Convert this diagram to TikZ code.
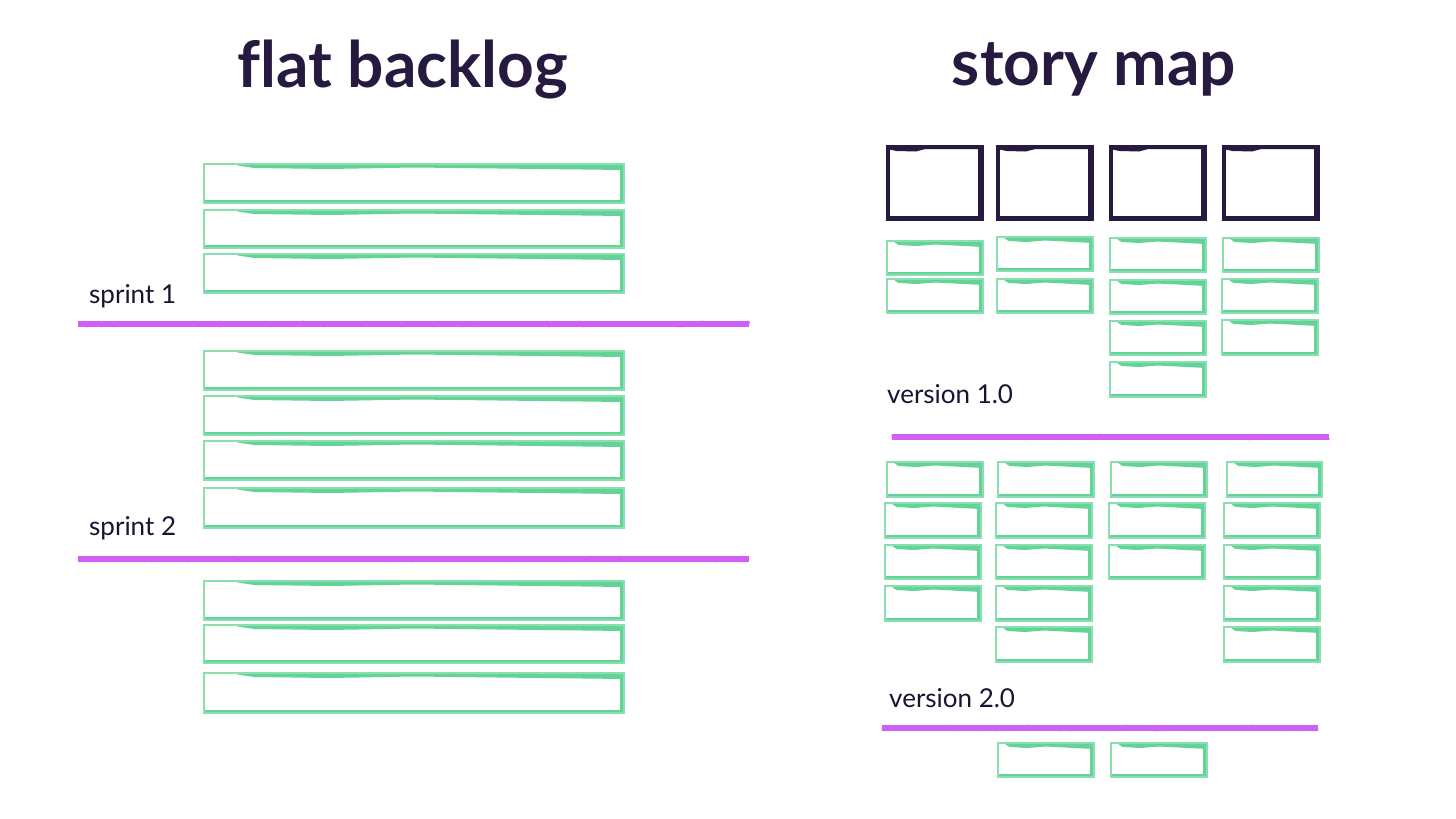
\documentclass[tikz,border=0pt]{standalone}
\usepackage{fontspec}
\setmainfont{Lato}[Ligatures=NoCommon]
\usetikzlibrary{calc,decorations.pathmorphing}
\definecolor{gcol}{HTML}{63D497}
\definecolor{navy}{HTML}{271A40}
\definecolor{pcol}{HTML}{D25FF3}
\definecolor{tcol}{HTML}{1B1332}
\tikzset{
  gbox/.style={draw=gcol!75, line width=1.3pt, inner sep=0pt, outer sep=0pt,
    path picture={
      \path (path picture bounding box.north west) coordinate (pa)
            (path picture bounding box.south east) coordinate (pb)
            (path picture bounding box.north east) coordinate (pc)
            (path picture bounding box.south west) coordinate (pd);
      \fill[gcol] ($(pa)!0.08!(pc)$) -- (pc) -- ([yshift=-6pt]pc)
        -- ($([yshift=-3.5pt]pa)!0.5!([yshift=-3.5pt]pc)$)
        -- ($([yshift=-5pt]pa)!0.3!([yshift=-5pt]pc)$)
        -- ($([yshift=-4pt]pa)!0.12!([yshift=-4pt]pc)$)
        -- ($([yshift=-1.5pt]pa)!0.08!([yshift=-1.5pt]pc)$) -- cycle;
      \fill[gcol] ([xshift=-4.5pt]pc) rectangle (pb);
      \fill[gcol] ([yshift=3.5pt]pd) rectangle ([xshift=-1pt]pb);
    }},
  dbox/.style={draw=navy, line width=2.2pt, inner sep=0pt, outer sep=0pt,
    path picture={
      \path (path picture bounding box.north west) coordinate (pa)
            (path picture bounding box.south east) coordinate (pb)
            (path picture bounding box.north east) coordinate (pc)
            (path picture bounding box.south west) coordinate (pd);
      \fill[navy] (pa) -- (pc) -- ([yshift=-3pt]pc)
        -- ($([yshift=-3pt]pa)!0.4!([yshift=-3pt]pc)$)
        -- ($([yshift=-5.5pt]pa)!0.3!([yshift=-5.5pt]pc)$)
        -- ($([yshift=-5pt]pa)!0.1!([yshift=-5pt]pc)$)
        -- ([yshift=-3pt]pa) -- cycle;
      \fill[navy] ([xshift=-5pt]pc) rectangle (pb);
      \fill[navy] ([yshift=4pt]pd) rectangle (pb);
      \fill[navy] (pa) rectangle ([xshift=2.5pt]pd);
    }},
  pline/.style={draw=pcol, line width=6pt},
  prough/.style={draw=pcol, line width=4.5pt,
    decorate, decoration={random steps, segment length=3pt, amplitude=0.9pt}},
  title/.style={text=navy, font=\fontsize{64}{64}\selectfont\bfseries, inner sep=0pt, anchor=base},
  lbl/.style={text=tcol, font=\fontsize{26}{26}\selectfont, inner sep=0pt, anchor=base west}
}
\newcommand\gbx[5]{\node[gbox, minimum width={#4-#2}, minimum height={#5-#3}] (#1) at ({(#2+#4)/2},{(#3+#5)/2}) {};}
\newcommand\dbx[5]{\node[dbox, minimum width={#4-#2}, minimum height={#5-#3}] (#1) at ({(#2+#4)/2},{(#3+#5)/2}) {};}
\newcommand\pln[3]{\draw[pline] (#1,#3) -- (#2,#3); \draw[prough] (#1,#3) -- (#2,#3);}
\begin{document}
\begin{tikzpicture}[x=1pt,y=-1pt]
\useasboundingbox[fill=white] (0,0) rectangle (1456,819);
% titles
\node[title] (t1) at (402.5,87) {flat backlog};
\node[title] (t2) at (1094,85) {story map};
% flat backlog
\gbx{a1}{204}{164}{624}{203}
\gbx{a2}{204}{210}{624}{248}
\gbx{a3}{204}{254}{624}{293}
\gbx{b1}{204}{351}{624}{390}
\gbx{b2}{204}{396}{624}{435}
\gbx{b3}{204}{441}{624}{480}
\gbx{b4}{204}{488}{624}{528}
\gbx{c1}{204}{581}{624}{620}
\gbx{c2}{204}{625}{624}{663}
\gbx{c3}{204}{673}{624}{713}
\node[lbl] (s1) at (89,303) {sprint 1};
\node[lbl] (s2) at (89,535) {sprint 2};
\pln{78}{749}{324}
\pln{78}{749}{559}
% story map: activities
\dbx{d1}{887}{146}{983}{220}
\dbx{d2}{997}{146}{1093}{220}
\dbx{d3}{1110}{146}{1206}{220}
\dbx{d4}{1223}{146}{1319}{220}
% version 1.0
\gbx{m11}{887}{241}{983}{275}
\gbx{m12}{887}{279}{983}{313}
\gbx{m21}{997}{237}{1093}{271}
\gbx{m22}{997}{279}{1093}{313}
\gbx{m31}{1110}{238}{1206}{272}
\gbx{m32}{1110}{280}{1206}{314}
\gbx{m33}{1110}{321}{1206}{355}
\gbx{m34}{1110}{362}{1206}{397}
\gbx{m41}{1223}{238}{1319}{272}
\gbx{m42}{1222}{279}{1318}{313}
\gbx{m43}{1222}{320}{1318}{355}
\node[lbl] (v1) at (887,403) {version 1.0};
\pln{892}{1329}{437}
% version 2.0
\gbx{n11}{887}{462}{983}{497}
\gbx{n12}{885}{503}{981}{538}
\gbx{n13}{885}{545}{981}{579}
\gbx{n14}{885}{586}{981}{621}
\gbx{n21}{998}{462}{1094}{497}
\gbx{n22}{996}{503}{1092}{538}
\gbx{n23}{996}{545}{1092}{579}
\gbx{n24}{996}{586}{1092}{621}
\gbx{n25}{996}{627}{1092}{662}
\gbx{n31}{1111}{462}{1207}{497}
\gbx{n32}{1109}{503}{1205}{538}
\gbx{n33}{1109}{545}{1205}{579}
\gbx{n41}{1227}{462}{1322}{497}
\gbx{n42}{1224}{503}{1320}{538}
\gbx{n43}{1224}{545}{1320}{579}
\gbx{n44}{1224}{586}{1320}{621}
\gbx{n45}{1224}{627}{1320}{662}
\node[lbl] (v2) at (889,707) {version 2.0};
\pln{882}{1318}{728}
% later
\gbx{r1}{998}{743}{1094}{777}
\gbx{r2}{1111}{743}{1207}{777}
\end{tikzpicture}
\end{document}
